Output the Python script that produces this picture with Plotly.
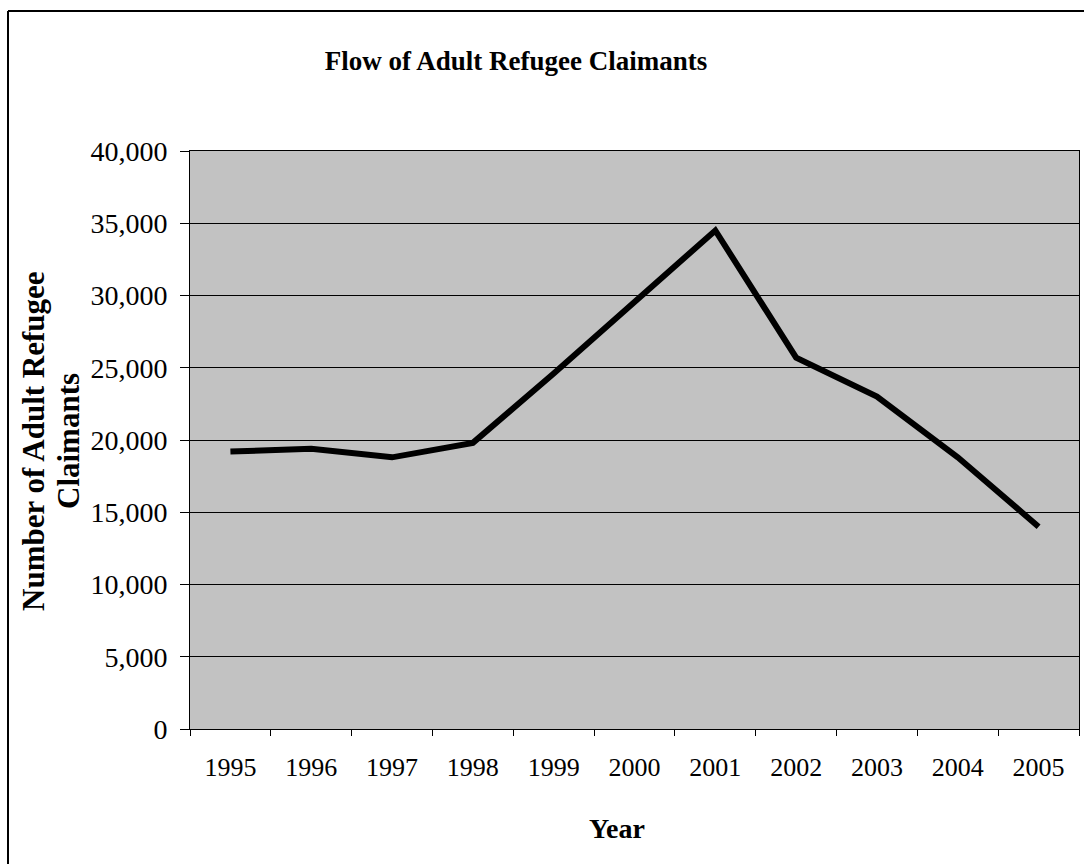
import plotly.graph_objects as go

years = ["1995", "1996", "1997", "1998", "1999", "2000", "2001", "2002", "2003", "2004", "2005"]
claimants = [19200, 19400, 18800, 19800, 24600, 29500, 34500, 25700, 23000, 18800, 14000]
y_title_lines = ["Number of Adult Refugee", "Claimants"]

W, H = 1084, 864
L, R, T, B = 190, 1079, 151, 729


def px2x(px):
    return (px - L) / (R - L)


def px2y(py):
    return (B - py) / (B - T)


FONT = "Liberation Serif"

fig = go.Figure()
fig.add_trace(go.Scatter(
    x=years, y=claimants, mode="lines",
    line=dict(color="black", width=6),
    showlegend=False,
))

fig.update_layout(
    width=W, height=H,
    margin=dict(l=L, r=W - R, t=T, b=H - B, pad=0),
    paper_bgcolor="white",
    plot_bgcolor="#c2c2c2",
    font=dict(family=FONT, color="black"),
    title=dict(
        text="<b>Flow of Adult Refugee Claimants</b>",
        x=516 / W, xanchor="center",
        y=1 - 61 / H, yanchor="middle",
        font=dict(family=FONT, size=27, color="black"),
    ),
    xaxis=dict(
        type="category",
        range=[-0.5, 10.5],
        tickson="boundaries",
        ticks="outside", ticklen=6, tickcolor="black", tickwidth=1,
        showline=True, linecolor="black", linewidth=1, mirror=True,
        showgrid=False,
        tickfont=dict(family=FONT, size=26, color="black"),
        ticklabelstandoff=15,
    ),
    yaxis=dict(
        range=[0, 40000], dtick=5000, tickformat=",",
        ticks="outside", ticklen=9, tickcolor="black", tickwidth=1,
        showline=True, linecolor="black", linewidth=1, mirror=True,
        showgrid=True, gridcolor="black", gridwidth=1,
        zeroline=False,
        tickfont=dict(family=FONT, size=28, color="black"),
        ticklabelstandoff=7,
    ),
    annotations=[
        dict(
            text="<b>" + y_title_lines[0] + "</b>",
            xref="paper", yref="paper",
            x=px2x(33), y=px2y(441), xanchor="center", yanchor="middle",
            textangle=-90, showarrow=False,
            font=dict(family=FONT, size=31, color="black"),
        ),
        dict(
            text="<b>" + y_title_lines[1] + "</b>",
            xref="paper", yref="paper",
            x=px2x(68), y=px2y(441), xanchor="center", yanchor="middle",
            textangle=-90, showarrow=False,
            font=dict(family=FONT, size=31, color="black"),
        ),
        dict(
            text="<b>Year</b>",
            xref="paper", yref="paper",
            x=px2x(617), y=px2y(828), xanchor="center", yanchor="middle",
            showarrow=False,
            font=dict(family=FONT, size=28, color="black"),
        ),
    ],
    shapes=[
        dict(type="line", xref="paper", yref="paper",
             x0=px2x(8), y0=px2y(11), x1=px2x(8), y1=px2y(870),
             line=dict(color="black", width=2)),
        dict(type="line", xref="paper", yref="paper",
             x0=px2x(8), y0=px2y(11), x1=px2x(1090), y1=px2y(11),
             line=dict(color="black", width=2)),
    ],
)

fig.write_html("out.html")
